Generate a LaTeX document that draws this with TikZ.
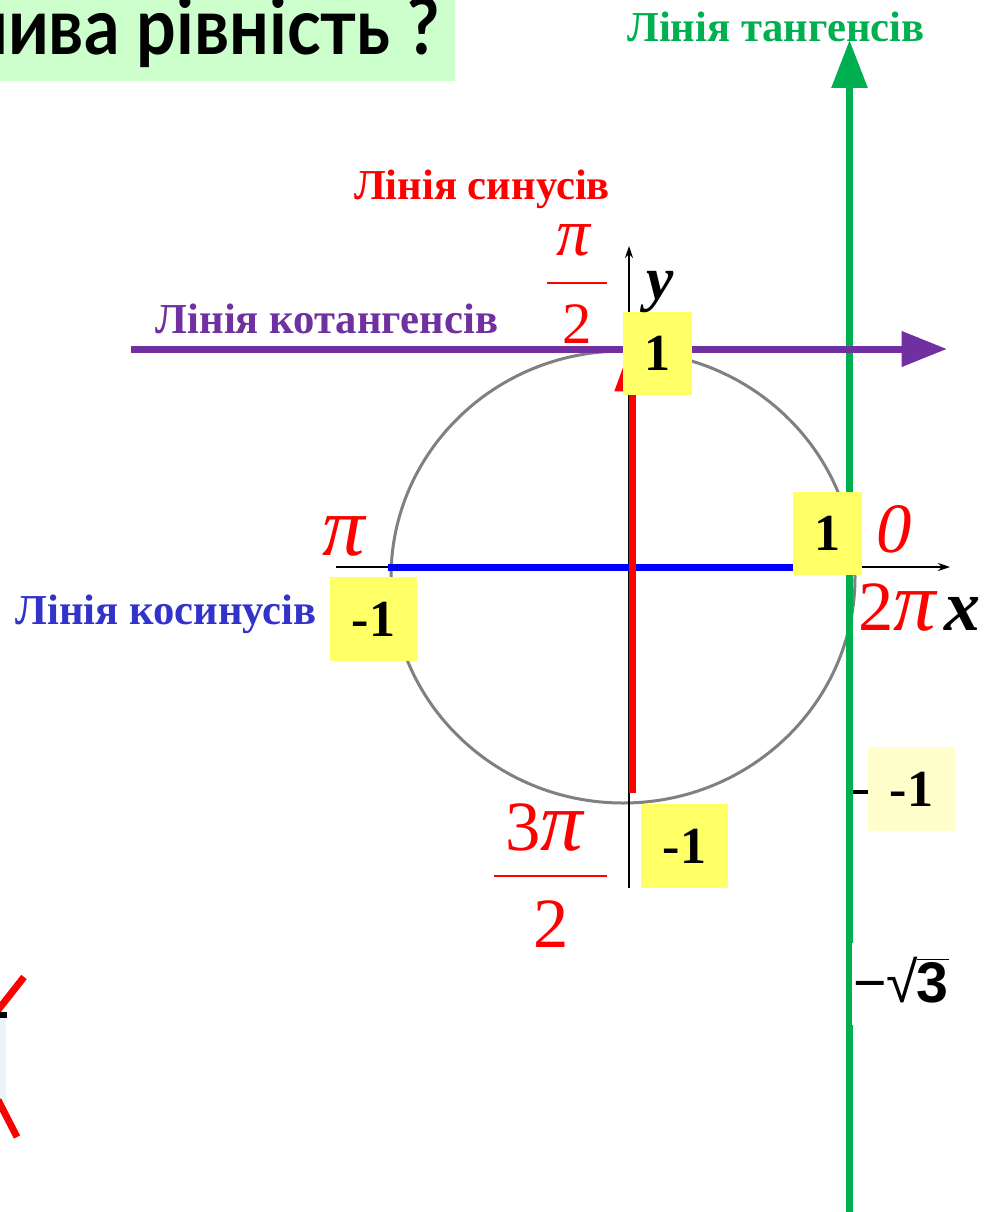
\documentclass[tikz,border=0pt]{standalone}
\usepackage{graphicx}
\usepackage{fontspec}
\setmainfont{Liberation Serif}
\newfontfamily\titlefont{Lato}
\newfontfamily\sansf{Liberation Sans}
\usetikzlibrary{arrows.meta}
\definecolor{tgreen}{HTML}{00B050}
\definecolor{cpurple}{HTML}{7030A0}
\definecolor{cblue}{HTML}{3333CC}
\definecolor{boxyellow}{HTML}{FFFF66}
\definecolor{paleyellow}{HTML}{FFFFCC}
\definecolor{titlegreen}{HTML}{CCFFCC}
\definecolor{circgray}{HTML}{808080}
\definecolor{paleblue}{HTML}{EAF5F8}
\newcommand\bigpi{\scalebox{1.2}{\textit{π}}}
\tikzset{
  lab/.style={font=\bfseries\fontsize{32}{32}\selectfont, inner sep=0pt, anchor=base},
  rmath/.style={text=red, inner sep=0pt, anchor=base, font=\fontsize{53}{53}\selectfont},
  rmathsmall/.style={text=red, inner sep=0pt, anchor=base, font=\fontsize{44}{44}\selectfont},
  axlab/.style={text=black, inner sep=0pt, anchor=base, font=\bfseries\itshape\fontsize{54}{54}\selectfont},
  ybox/.style={fill=boxyellow, inner sep=0pt, text=black, font=\bfseries\fontsize{39}{39}\selectfont},
  fatline/.style={line width=5.25pt},
  axisline/.style={black, line width=1.1pt, -{Stealth[length=9pt,width=6pt]}},
  fracbar/.style={red, line width=2pt}
}
\begin{document}
\begin{tikzpicture}[x=0.75pt,y=-0.75pt]
\useasboundingbox (0,0) rectangle (986,1212);
% title
\fill[titlegreen] (0,0) rectangle (455,81);
\begin{scope}
\clip (0,0) rectangle (455,81);
\node[font=\titlefont\bfseries\fontsize{59}{59}\selectfont, inner sep=0pt, anchor=base east, xscale=0.89] (title) at (440,55) {можлива рівність ?};
\end{scope}
% circle
\draw[circgray, line width=2.25pt] (623,577) ellipse [x radius=174pt, y radius=169.5pt];
% axes
\coordinate (xs) at (336,567); \coordinate (xe) at (950,567);
\coordinate (ys) at (629,888); \coordinate (ye) at (629,246);
\draw[axisline] (xs) -- (xe);
\draw[axisline] (ys) -- (ye);
% cosine line
\coordinate (bs) at (388,567); \coordinate (be) at (800,567);
\draw[blue, fatline] (bs) -- (be);
% sine line
\coordinate (rs) at (632,793); \coordinate (re) at (632,342);
\draw[red, fatline, -{Triangle[length=37pt,width=25pt]}] (rs) -- (re);
% tangent line
\coordinate (gs) at (849.5,1212); \coordinate (ge) at (849.5,40);
\draw[tgreen, fatline, -{Triangle[length=36pt,width=26pt]}] (gs) -- (ge);
% cotangent line
\coordinate (ps) at (131,349); \coordinate (pe) at (947,349);
\draw[cpurple, fatline, -{Triangle[length=34pt,width=25.5pt]}] (ps) -- (pe);
% labels of the lines
\node[lab, text=tgreen] (ltan) at (776,42) {Лінія тангенсів};
\node[lab, text=red] (lsin) at (482,200) {Лінія синусів};
\node[lab, text=cpurple] (lcot) at (327,333) {Лінія котангенсів};
\node[lab, text=cblue] (lcos) at (166,624) {Лінія косинусів};
% yellow boxes
\node[ybox, minimum width=51.75pt, minimum height=62.25pt] (b1top) at (657.5,353.5) {1};
\node[ybox, minimum width=51.75pt, minimum height=62.25pt] (b1right) at (827.5,533.5) {1};
\node[ybox, minimum width=65.25pt, minimum height=63pt] (bm1left) at (373.5,619) {-1};
\node[ybox, minimum width=65.25pt, minimum height=63pt] (bm1bot) at (684.5,846) {-1};
\node[ybox, fill=paleyellow, minimum width=65.25pt, minimum height=63pt] (bm1tan) at (911.5,789) {-1};
\coordinate (tk1) at (853,792); \coordinate (tk2) at (868,792);
\draw[black, line width=3pt] (tk1) -- (tk2);
% -sqrt3
\node[fill=white, inner sep=0pt, minimum width=77.25pt, minimum height=61.5pt] (wbox) at (903.5,984) {};
\node[inner sep=0pt, font=\sansf\fontsize{43}{43}\selectfont] (sq3) at (901,980) {−√\kern-1pt\vbox{\hrule height 1.3pt\kern 1.5pt\hbox{\bfseries 3}}};
% angle labels
\node[rmathsmall] (pinum) at (574,256) {\scalebox{1.15}{\textit{π}}};
\coordinate (fb1a) at (547,283); \coordinate (fb1b) at (607,283);
\draw[fracbar] (fb1a) -- (fb1b);
\node[rmathsmall] (piden) at (577,343) {2};
\node[rmath] (pileft) at (345,555) {\bigpi};
\node[rmath] (zero) at (894,552) {\textit{0}};
\node[rmath] (twopi) at (898,630) {2\bigpi};
\node[rmath] (tpnum) at (545,850) {3\bigpi};
\coordinate (fb2a) at (494,876); \coordinate (fb2b) at (607,876);
\draw[fracbar] (fb2a) -- (fb2b);
\node[rmath] (tpden) at (551,947) {2};
\node[axlab] (xlab) at (962,630) {x};
\node[axlab, font=\bfseries\itshape\fontsize{46}{46}\selectfont] (ylab) at (660,300) {y};
% partial red cross at bottom left
\fill[paleblue] (0,1018) rectangle (6,1104);
\fill[black] (0,1012) rectangle (7,1018);
\coordinate (c1a) at (-2,1010); \coordinate (c1b) at (24,977);
\coordinate (c2a) at (-2,1100); \coordinate (c2b) at (17,1137);
\draw[red, fatline] (c1a) -- (c1b);
\draw[red, fatline] (c2a) -- (c2b);
\end{tikzpicture}
\end{document}
